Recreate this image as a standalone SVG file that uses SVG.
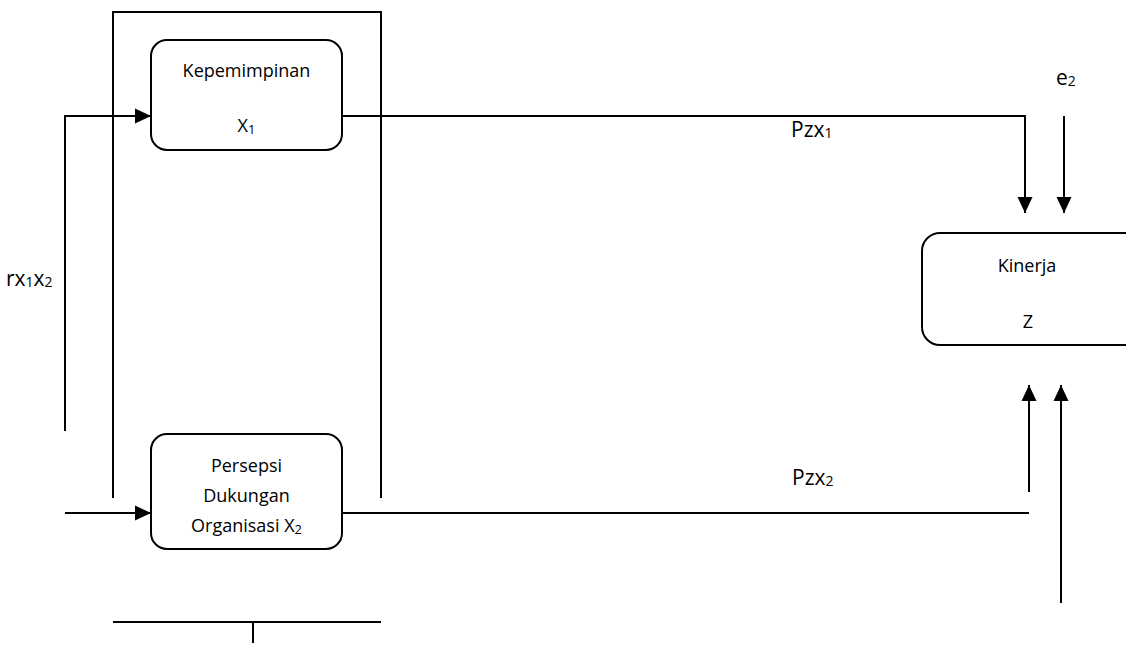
<svg xmlns="http://www.w3.org/2000/svg" width="1126" height="660" viewBox="0 0 1126 660">
  <style>
    .box { fill: #ffffff; stroke: #000000; stroke-width: 2; }
    .ln { fill: none; stroke: #000000; stroke-width: 2; }
    .arr { fill: none; stroke: #000000; stroke-width: 2; marker-end: url(#head); }
    text { font-family: "Open Sans", "Noto Sans", "Liberation Sans", sans-serif; fill: #000000; }
    .lbl { font-size: 18px; text-anchor: middle; }
    .coef { font-size: 21px; }
    .sub { font-size: 13px; }
    .csub { font-size: 14px; }
  </style>
  <defs>
    <marker id="head" markerUnits="userSpaceOnUse" markerWidth="16" markerHeight="16" viewBox="0 0 16 16" refX="16" refY="8" orient="auto">
      <path d="M0,0.5 L16,8 L0,15.5 Z" fill="#000000"/>
    </marker>
  </defs>

  <!-- connectors -->
  <g id="connectors">
    <!-- correlation bracket around X1 and X2 -->
    <polyline class="ln" points="113,498 113,12 381,12 381,498"/>
    <line class="ln" x1="113" y1="622" x2="381" y2="622"/>
    <line class="ln" x1="253" y1="622" x2="253" y2="643"/>
    <!-- inputs into X1 and X2 -->
    <polyline class="arr" points="65,431 65,116 151,116"/>
    <line class="arr" x1="65" y1="513" x2="151" y2="513"/>
    <!-- X1 to Z -->
    <polyline class="arr" points="342,116 1025,116 1025,213"/>
    <!-- e2 to Z -->
    <line class="arr" x1="1064" y1="116" x2="1064" y2="213"/>
    <!-- X2 to Z -->
    <line class="ln" x1="342" y1="513" x2="1029" y2="513"/>
    <line class="arr" x1="1029" y1="492" x2="1029" y2="385"/>
    <line class="arr" x1="1061" y1="603" x2="1061" y2="385"/>
  </g>

  <g id="node-x1">
    <rect class="box" x="151" y="40" width="191" height="110" rx="16"/>
    <text class="lbl" x="246.5" y="77">Kepemimpinan</text>
    <text class="lbl" x="246.5" y="132">X<tspan class="sub" dy="2">1</tspan></text>
  </g>

  <g id="node-x2">
    <rect class="box" x="151" y="434" width="191" height="115" rx="16"/>
    <text class="lbl" x="246.5" y="472">Persepsi</text>
    <text class="lbl" x="246.5" y="502">Dukungan</text>
    <text class="lbl" x="246.5" y="532">Organisasi X<tspan class="sub" dy="2">2</tspan></text>
  </g>

  <g id="node-z">
    <rect class="box" x="922" y="233" width="220" height="112" rx="18"/>
    <text class="lbl" x="1027" y="272">Kinerja</text>
    <text class="lbl" x="1028" y="328">Z</text>
  </g>

  <g id="labels">
    <text class="coef" x="1056" y="85">e<tspan class="csub" dy="1">2</tspan></text>
    <text class="coef" x="791" y="137">Pzx<tspan class="csub" dy="1">1</tspan></text>
    <text class="coef" x="792" y="485">Pzx<tspan class="csub" dy="1">2</tspan></text>
    <text class="coef" x="6" y="286">rx<tspan class="csub" dy="1">1</tspan><tspan dy="-1">x</tspan><tspan class="csub" dy="1">2</tspan></text>
  </g>
</svg>
